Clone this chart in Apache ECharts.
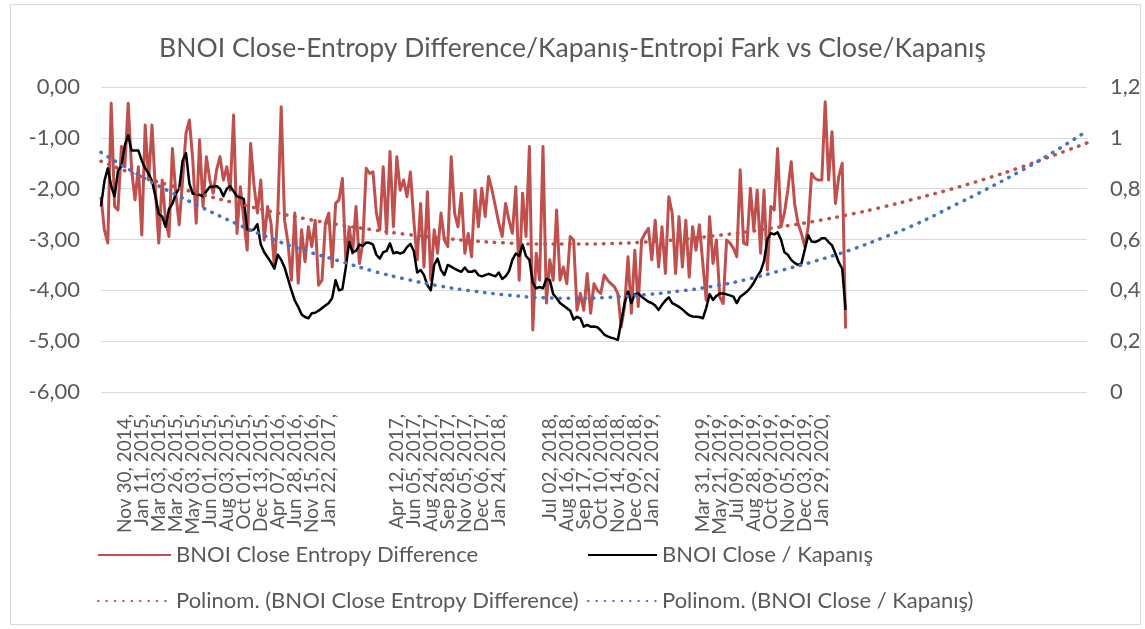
<!DOCTYPE html>
<html><head><meta charset="utf-8">
<script src="https://cdn.jsdelivr.net/npm/echarts@6/dist/echarts.min.js"></script>
<style>html,body{margin:0;padding:0;background:#fff}#c{width:1145px;height:629px}</style>
</head><body><div id="c"></div>
<script>
// ---- tick labels (every 5th category starting at category 7; '' = no label) ----
const tickLabels = [
  "Nov 30, 2014,", "Jan 11, 2015,", "Mar 03, 2015,", "Mar 26, 2015,", "May 03, 2015,",
  "Jun 01, 2015,", "Aug 03, 2015,", "Oct 01, 2015,", "Dec 13, 2015,", "Apr 07, 2016,",
  "Jun 28, 2016,", "Nov 15, 2016,", "Jan 22, 2017,", "", "", "",
  "Apr 12, 2017,", "Jun 05, 2017,", "Aug 24, 2017,", "Sep 28, 2017,", "Nov 05, 2017,",
  "Dec 06, 2017,", "Jan 24, 2018,", "", "",
  "Jul 02, 2018,", "Aug 16, 2018,", "Sep 17, 2018,", "Oct 10, 2018,", "Nov 14, 2018,",
  "Dec 09, 2018,", "Jan 22, 2019,", "", "",
  "Mar 31, 2019,", "May 21, 2019,", "Jul 09, 2019,", "Aug 28, 2019,", "Oct 09, 2019,",
  "Nov 05, 2019,", "Dec 03, 2019,", "Jan 29, 2020,"
];
const labelStart = 7;
const labelStep = 5;
const forecastPeriods = 71;

// ---- series values ----
const entropyDiff = [
  -2.16,-2.81,-3.07,-0.32,-2.35,-2.42,-1.17,-1.57,-0.32,-1.63,
  -2.22,-1.57,-2.91,-0.75,-1.83,-0.75,-2.03,-3.07,-1.83,-2.62,
  -2.94,-1.21,-2.09,-2.71,-1.83,-0.91,-0.65,-1.44,-2.68,-1.04,
  -2.35,-1.37,-1.83,-2.09,-1.63,-1.37,-1.83,-1.57,-2.03,-0.55,
  -2.88,-1.96,-2.62,-3.21,-1.11,-1.93,-2.48,-1.83,-3.01,-2.35,
  -2.68,-3.54,-2.48,-0.39,-2.62,-3.07,-3.80,-2.48,-3.86,-2.81,
  -3.44,-2.75,-3.14,-2.62,-3.90,-3.80,-2.68,-2.48,-3.54,-2.29,
  -2.22,-1.80,-3.40,-2.75,-3.27,-2.35,-3.47,-3.07,-1.60,-1.70,
  -1.67,-2.48,-2.81,-1.57,-2.88,-1.27,-2.75,-1.37,-2.03,-1.83,
  -2.16,-1.67,-2.62,-3.40,-2.29,-3.54,-2.06,-3.80,-2.81,-3.27,
  -2.48,-3.01,-3.14,-1.37,-2.48,-2.75,-2.09,-3.27,-2.88,-3.34,
  -2.03,-2.75,-1.99,-2.55,-1.76,-2.03,-2.35,-2.68,-2.94,-2.29,
  -2.62,-2.88,-1.96,-3.80,-2.09,-2.94,-1.17,-4.78,-3.27,-3.80,
  -1.17,-4.25,-3.40,-3.80,-2.42,-3.80,-3.54,-3.87,-2.94,-3.01,
  -4.39,-4.06,-4.39,-3.67,-4.45,-3.87,-4.00,-4.06,-3.70,-3.80,
  -3.87,-3.93,-4.06,-4.72,-4.32,-3.34,-4.45,-3.21,-4.32,-3.01,
  -2.88,-2.78,-3.40,-2.62,-3.54,-2.75,-3.67,-2.16,-2.48,-3.67,
  -2.55,-3.54,-2.62,-3.74,-2.75,-3.21,-2.71,-3.47,-4.19,-2.55,
  -3.47,-3.01,-4.13,-4.26,-3.01,-3.07,-3.17,-3.34,-1.63,-3.07,
  -3.10,-1.99,-2.81,-2.03,-3.27,-2.03,-3.60,-2.35,-2.42,-1.21,
  -2.75,-2.48,-2.03,-1.47,-2.29,-2.68,-2.88,-3.14,-2.75,-1.70,
  -1.80,-1.83,-1.83,-0.29,-1.83,-0.88,-2.29,-1.76,-1.50,-4.75
];
const closeValues = [
  0.73,0.83,0.88,0.81,0.77,0.87,0.89,0.97,1.01,0.95,
  0.95,0.95,0.91,0.88,0.86,0.83,0.77,0.70,0.69,0.65,
  0.72,0.74,0.78,0.80,0.91,0.94,0.82,0.78,0.78,0.775,
  0.77,0.79,0.808,0.808,0.81,0.80,0.77,0.80,0.81,0.79,
  0.77,0.765,0.76,0.64,0.635,0.64,0.66,0.58,0.55,0.53,
  0.51,0.485,0.54,0.52,0.49,0.445,0.40,0.36,0.335,0.305,
  0.295,0.29,0.31,0.312,0.32,0.33,0.34,0.35,0.37,0.44,
  0.40,0.405,0.49,0.59,0.55,0.555,0.58,0.575,0.588,0.587,
  0.58,0.54,0.525,0.55,0.555,0.585,0.546,0.55,0.545,0.55,
  0.57,0.583,0.555,0.47,0.48,0.46,0.42,0.40,0.50,0.525,
  0.48,0.46,0.50,0.493,0.485,0.478,0.473,0.49,0.473,0.473,
  0.478,0.46,0.455,0.46,0.465,0.46,0.455,0.47,0.445,0.455,
  0.475,0.52,0.545,0.535,0.58,0.535,0.52,0.43,0.408,0.413,
  0.408,0.445,0.44,0.385,0.37,0.35,0.34,0.33,0.32,0.285,
  0.296,0.29,0.257,0.264,0.257,0.258,0.255,0.242,0.226,0.219,
  0.214,0.21,0.205,0.275,0.35,0.395,0.35,0.385,0.388,0.375,
  0.365,0.355,0.35,0.34,0.323,0.343,0.36,0.372,0.35,0.343,
  0.335,0.325,0.313,0.302,0.297,0.296,0.295,0.29,0.33,0.385,
  0.362,0.378,0.388,0.388,0.384,0.38,0.375,0.35,0.375,0.385,
  0.395,0.41,0.43,0.455,0.475,0.515,0.60,0.625,0.62,0.628,
  0.60,0.55,0.54,0.52,0.508,0.50,0.505,0.56,0.617,0.592,
  0.59,0.595,0.605,0.605,0.59,0.577,0.545,0.51,0.485,0.323
];

// ---- polynomial trendlines, every 10 categories (0..290) ----
const trendStep = 10;
const entropyTrendValues = [
  -1.46,-1.72,-1.93,-2.12,-2.29,-2.45,-2.59,-2.71,-2.81,-2.90,
  -2.97,-3.03,-3.07,-3.09,-3.09,-3.08,-3.05,-3.00,-2.93,-2.85,
  -2.75,-2.64,-2.51,-2.36,-2.19,-2.01,-1.81,-1.59,-1.35,-1.10
];
const closeTrendValues = [
  0.943,0.862,0.790,0.724,0.661,0.604,0.556,0.516,0.476,0.443,
  0.416,0.396,0.381,0.371,0.369,0.373,0.383,0.397,0.416,0.443,
  0.478,0.515,0.557,0.607,0.662,0.728,0.795,0.866,0.943,1.027
];

const N = entropyDiff.length;
const T = N + forecastPeriods;
const categories = Array.from({length: T}, (_, i) => {
  const j = (i - labelStart) / labelStep;
  return (Number.isInteger(j) && j >= 0 && j < tickLabels.length) ? tickLabels[j] : '';
});
const toPairs = vals => vals.map((v, k) => [k * trendStep, v]);

const FONT = 'Lato';
const GREY = '#595959';
const RED = '#C0504D';
const BLUE = '#4472C4';
const dotted = [0.5, 7.9];

const chart = echarts.init(document.getElementById('c'), null, {renderer: 'canvas'});
const legendBase = {
  itemHeight: 14, itemGap: 0, padding: 0,
  itemStyle: {opacity: 0},
  textStyle: {fontFamily: FONT, fontSize: 22, color: GREY}
};
chart.setOption({
  backgroundColor: '#ffffff',
  animation: false,
  textStyle: {fontFamily: FONT},
  title: {
    text: 'BNOI Close-Entropy Difference/Kapanış-Entropi Fark vs Close/Kapanış',
    left: 'center', top: 30,
    textStyle: {fontFamily: FONT, fontSize: 26.5, fontWeight: 'normal', color: GREY}
  },
  graphic: [{
    type: 'rect', silent: true,
    shape: {x: 10.5, y: 4.5, width: 1130, height: 620},
    style: {fill: 'none', stroke: '#D9D9D9', lineWidth: 1}
  }],
  legend: [
    Object.assign({}, legendBase, {data: ['BNOI Close Entropy Difference'], left: 97, top: 544, itemWidth: 73}),
    Object.assign({}, legendBase, {data: ['BNOI Close / Kapanış'], left: 587, top: 544, itemWidth: 69}),
    Object.assign({}, legendBase, {data: ['Polinom. (BNOI Close Entropy Difference)'], left: 97, top: 590, itemWidth: 73}),
    Object.assign({}, legendBase, {data: ['Polinom. (BNOI Close / Kapanış)'], left: 587, top: 590, itemWidth: 69})
  ],
  grid: {left: 101, right: 58, top: 87, bottom: 237, containLabel: false},
  xAxis: {
    type: 'category', data: categories, boundaryGap: false,
    axisLine: {show: false}, axisTick: {show: false},
    axisLabel: {interval: 0, rotate: 90, margin: 22, fontFamily: FONT, fontSize: 19, color: GREY},
    splitLine: {show: false}
  },
  yAxis: [{
    type: 'value', min: -6, max: 0, interval: 1, position: 'left',
    axisLine: {show: false}, axisTick: {show: false},
    axisLabel: {margin: 21, fontFamily: FONT, fontSize: 22, color: GREY,
      formatter: v => v.toFixed(2).replace('.', ',')},
    splitLine: {lineStyle: {color: '#D9D9D9', width: 1}}
  }, {
    type: 'value', min: 0, max: 1.2, interval: 0.2, position: 'right',
    axisLine: {show: false}, axisTick: {show: false},
    axisLabel: {margin: 23, fontFamily: FONT, fontSize: 22, color: GREY,
      formatter: v => String(Math.round(v * 10) / 10).replace('.', ',')},
    splitLine: {show: false}
  }],
  series: [{
    name: 'BNOI Close Entropy Difference', type: 'line', yAxisIndex: 0,
    data: entropyDiff, symbol: 'none', color: RED,
    lineStyle: {color: RED, width: 3, join: 'round'}
  }, {
    name: 'BNOI Close / Kapanış', type: 'line', yAxisIndex: 1,
    data: closeValues, symbol: 'none', color: '#000000',
    lineStyle: {color: '#000000', width: 2.5, join: 'round'}
  }, {
    name: 'Polinom. (BNOI Close Entropy Difference)', type: 'line', yAxisIndex: 0,
    data: toPairs(entropyTrendValues), symbol: 'none', smooth: true, color: RED,
    lineStyle: {color: RED, width: 3.5, type: dotted, cap: 'round'}
  }, {
    name: 'Polinom. (BNOI Close / Kapanış)', type: 'line', yAxisIndex: 1,
    data: toPairs(closeTrendValues), symbol: 'none', smooth: true, color: BLUE,
    lineStyle: {color: BLUE, width: 3.5, type: dotted, cap: 'round'}
  }]
});
</script>
</body></html>
